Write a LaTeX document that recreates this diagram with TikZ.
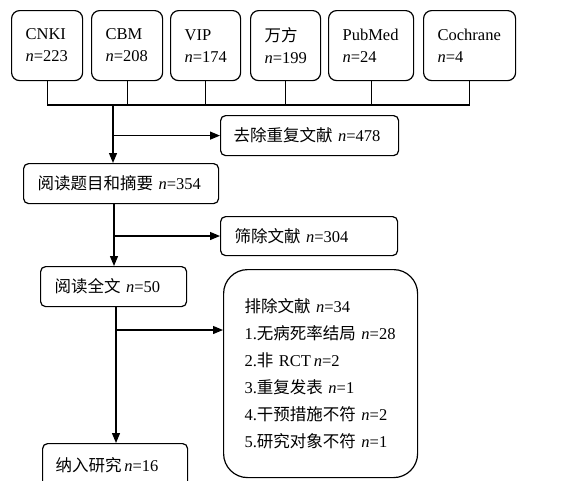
\documentclass[tikz,border=0pt]{standalone}
\usepackage{fontspec}
\setmainfont{Liberation Serif}
\newfontfamily\cjk{Noto Sans CJK SC}
\newcommand\zh[1]{{\cjk #1}}
\usetikzlibrary{arrows.meta}
\begin{document}
\begin{tikzpicture}[x=1pt,y=-1pt,line width=1.2pt,
  box/.style={draw, rounded corners=5pt, anchor=north west, align=left,
    inner xsep=14pt, inner ysep=0pt, font=\fontsize{16.5}{19}\selectfont},
  src/.style={box, rounded corners=8pt, minimum height=70pt, font=\fontsize{16.5}{22}\selectfont},
  arr/.style={-{Triangle[length=10pt,width=8pt]}}]
\clip (0,0) rectangle (587,480);
% source boxes
\node[src, text width=43pt] (cnki) at (11,10) {CNKI\\\textit{n}=223};
\node[src, text width=43pt] (cbm) at (91,10) {CBM\\\textit{n}=208};
\node[src, text width=42pt] (vip) at (170,10) {VIP\\\textit{n}=174};
\node[src, text width=42pt] (wf) at (250,10) {\zh{万方}\\\textit{n}=199};
\node[src, text width=57pt] (pub) at (328,10) {PubMed\\\textit{n}=24};
\node[src, text width=64pt] (coch) at (423,10) {Cochrane\\\textit{n}=4};
% process boxes
\node[box, minimum height=40pt, inner xsep=13pt, text width=152pt] (dup) at (220,115) {\zh{去除重复文献} \textit{n}=478};
\node[box, minimum height=40pt, text width=167pt] (read1) at (23,163) {\zh{阅读题目和摘要} \textit{n}=354};
\node[box, minimum height=39pt, text width=149pt] (screen) at (220,216) {\zh{筛除文献} \textit{n}=304};
\node[box, minimum height=40pt, text width=118pt] (full) at (40,266) {\zh{阅读全文} \textit{n}=50};
\node[box, rounded corners=24pt, minimum height=208pt, inner xsep=21pt, text width=152pt,
  font=\fontsize{16.5}{27}\selectfont] (excl) at (223,269)
  {\zh{排除文献} \textit{n}=34\\
   1.\zh{无病死率结局} \textit{n}=28\\
   2.\zh{非} RCT\,\textit{n}=2\\
   3.\zh{重复发表} \textit{n}=1\\
   4.\zh{干预措施不符} \textit{n}=2\\
   5.\zh{研究对象不符} \textit{n}=1};
\node[box, minimum height=44pt, inner xsep=13pt, text width=119pt] (incl) at (42,443) {\zh{纳入研究}\,\textit{n}=16};
% bus
\coordinate (bus) at (45,105);
\foreach \s in {cnki,cbm,vip,wf,pub,coch}
  \draw (\s.south) -- (\s.south |- bus);
\draw (cnki.south |- bus) -- (coch.south |- bus);
% trunk 1
\coordinate (t1) at (113,105);
\draw[arr] (t1) -- (t1 |- read1.north);
\draw[arr] (t1 |- dup.west) -- (dup.west);
% trunk 2
\coordinate (t2) at (114,236);
\draw[arr] (t2 |- read1.south) -- (t2 |- full.north);
\draw[arr] (t2) -- (t2 -| screen.west);
% trunk 3
\coordinate (t3) at (116,330);
\draw[arr] (t3 |- full.south) -- (t3 |- incl.north);
\draw[arr] (t3) -- (t3 -| excl.west);
\end{tikzpicture}
\end{document}
